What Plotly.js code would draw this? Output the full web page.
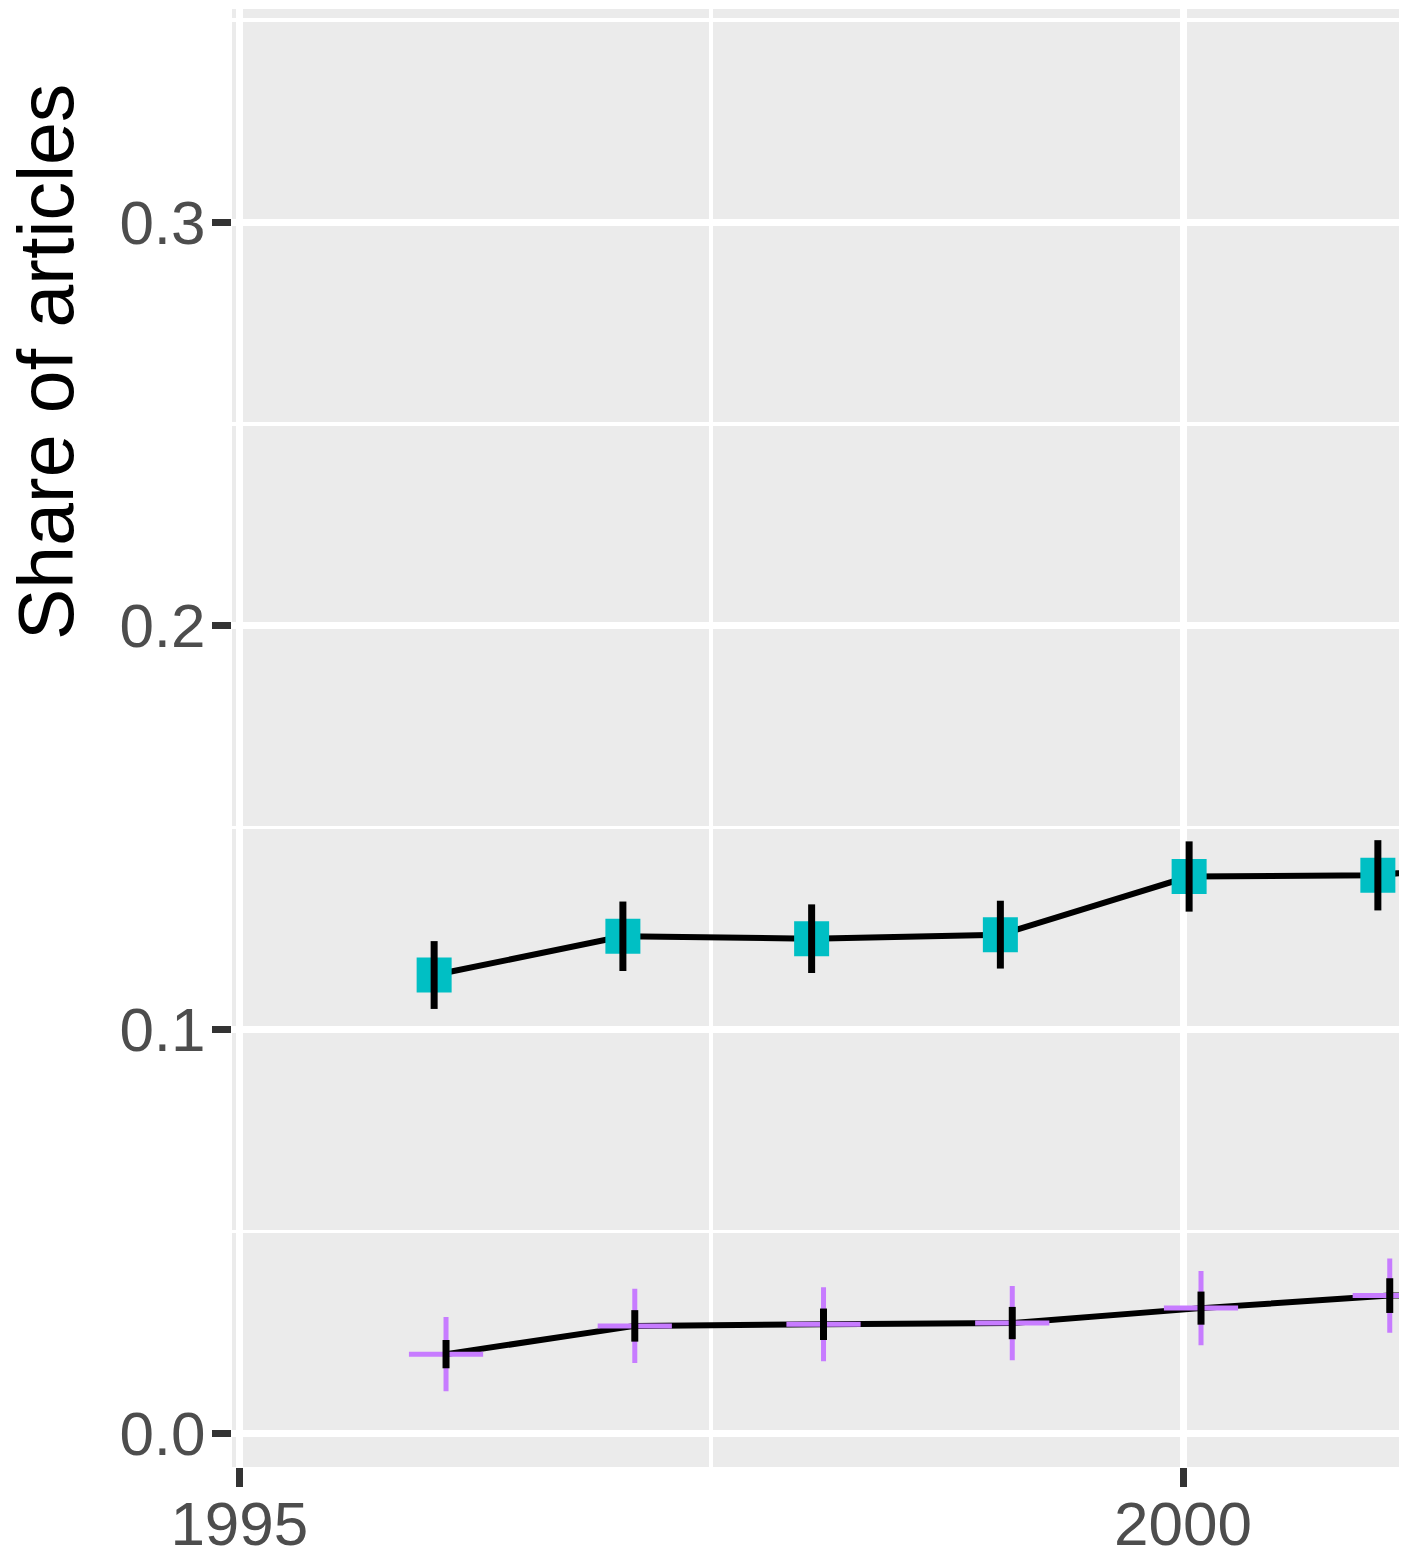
<!DOCTYPE html>
<html>
<head>
<meta charset="utf-8">
<script src="https://cdn.plot.ly/plotly-3.0.1.min.js"></script>
<style>html,body{margin:0;padding:0;background:#fff;}#chart{width:1410px;height:1559px;}</style>
</head>
<body>
<div id="chart"></div>
<script>
// ---- data ----
const years = [1996, 1997, 1998, 1999, 2000, 2001, 2002];
const tealShare = [0.1135, 0.1231, 0.1225, 0.1235, 0.1379, 0.1382, 0.1430];
const tealErr   = [0.0084, 0.0086, 0.0085, 0.0084, 0.0087, 0.0087, 0.0088];
const purpleShare = [0.0196, 0.0266, 0.0270, 0.0273, 0.0310, 0.0341, 0.0345];
const purpleErr   = [0.0035, 0.0039, 0.0039, 0.0040, 0.0041, 0.0043, 0.0043];
const yTickVals = [0.0, 0.1, 0.2, 0.3];
const xTickVals = [1995, 2000];
const yTitle = 'Share of articles';

// dodge offsets of the two visible groups
const tealDodge = 0.032;
const purpleDodge = 0.095;
const tealX = years.map(y => y + tealDodge);
const purpleX = years.map(y => y + purpleDodge);

const TEAL = '#00BFC4', PURPLE = '#C77CFF';
const FONT = '"Liberation Sans", Arial, sans-serif';

const traces = [
  // teal series
  {x: tealX, y: tealShare, type: 'scatter', mode: 'lines', line: {color: '#000', width: 6}, hoverinfo: 'skip', showlegend: false},
  {x: tealX, y: tealShare, type: 'scatter', mode: 'markers',
   marker: {symbol: 'square', size: 35, color: TEAL, line: {width: 0}}, showlegend: false},
  {x: tealX, y: tealShare, type: 'scatter', mode: 'markers',
   marker: {size: 1, color: 'rgba(0,0,0,0)'},
   error_y: {type: 'data', array: tealErr, visible: true, color: '#000', thickness: 7, width: 0}, showlegend: false},
  // purple series
  {x: purpleX, y: purpleShare, type: 'scatter', mode: 'lines', line: {color: '#000', width: 6}, hoverinfo: 'skip', showlegend: false},
  {x: purpleX, y: purpleShare, type: 'scatter', mode: 'markers',
   marker: {symbol: 'cross-thin', size: 53, color: PURPLE, line: {width: 5, color: PURPLE}}, showlegend: false},
  {x: purpleX, y: purpleShare, type: 'scatter', mode: 'markers',
   marker: {size: 1, color: 'rgba(0,0,0,0)'},
   error_y: {type: 'data', array: purpleErr, visible: true, color: '#000', thickness: 7, width: 0}, showlegend: false}
];

const tickFont = {family: FONT, size: 62, color: '#4D4D4D'};

const layout = {
  width: 1410, height: 1559,
  margin: {l: 232, r: 11, t: 9, b: 92, pad: 0},
  paper_bgcolor: '#FFFFFF',
  plot_bgcolor: '#EBEBEB',
  showlegend: false,
  xaxis: {
    range: [1994.961, 2001.144],
    tickmode: 'array', tickvals: xTickVals, ticktext: xTickVals.map(String),
    ticks: 'outside', ticklen: 19, tickwidth: 7, tickcolor: '#333333',
    tickfont: tickFont, ticklabelstandoff: -16,
    showgrid: true, gridcolor: '#FFFFFF', gridwidth: 7,
    minor: {tickmode: 'linear', tick0: 1992.5, dtick: 5, showgrid: true, gridcolor: '#FFFFFF', gridwidth: 3.5, ticks: ''},
    zeroline: false, showline: false, fixedrange: true
  },
  yaxis: {
    range: [-0.00835, 0.35276],
    tickmode: 'array', tickvals: yTickVals, ticktext: yTickVals.map(v => v.toFixed(1)),
    ticks: 'outside', ticklen: 19, tickwidth: 7, tickcolor: '#333333',
    tickfont: tickFont, ticklabelstandoff: -6,
    showgrid: true, gridcolor: '#FFFFFF', gridwidth: 7,
    minor: {tickmode: 'linear', tick0: 0.05, dtick: 0.1, showgrid: true, gridcolor: '#FFFFFF', gridwidth: 3.5, ticks: ''},
    zeroline: false, showline: false, fixedrange: true
  },
  annotations: [{
    text: yTitle, textangle: -90, showarrow: false,
    xref: 'paper', yref: 'paper',
    x: (46 - 232) / 1167, y: (1467 - 362) / 1458,
    xanchor: 'center', yanchor: 'middle',
    font: {family: FONT, size: 77, color: '#000000'}
  }]
};

Plotly.newPlot('chart', traces, layout, {displayModeBar: false, staticPlot: true});
</script>
</body>
</html>
